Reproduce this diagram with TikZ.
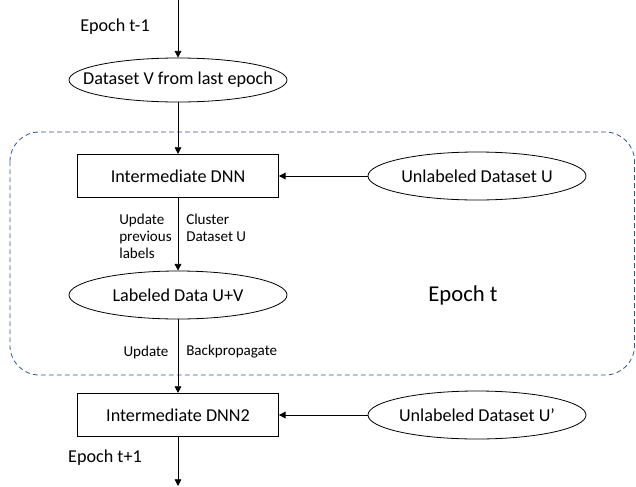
\documentclass[tikz,border=0pt]{standalone}
\usepackage{fontspec}
\setmainfont{Carlito}
\usetikzlibrary{arrows.meta,shapes.geometric}
\definecolor{epochblue}{RGB}{47,85,151}
\tikzset{
  flow/.style={-{Triangle[length=5pt,width=5pt]},line width=0.6pt},
  stage/.style={draw,rectangle,minimum width=150.75pt,minimum height=32.5pt,line width=0.6pt},
  data/.style={draw,ellipse,minimum width=163.5pt,minimum height=36pt,inner xsep=-16pt,inner ysep=1pt,line width=0.6pt},
  note/.style={font=\fontsize{11.3}{12.75}\selectfont,align=left,inner sep=0pt},
  epochbox/.style={draw=epochblue,dash pattern=on 3.5pt off 2.5pt,rounded corners=22pt,line width=0.6pt}
}
\begin{document}
\begin{tikzpicture}[x=0.75pt,y=-0.75pt,every node/.append style={font=\fontsize{13.6}{16}\selectfont}]
	\useasboundingbox (0,0) rectangle (636,486);
	\draw[epochbox] (10,132) rectangle (634.5,375);
	\coordinate(top) at (178,0);
	\coordinate(bottom) at (178,486);
	\node(tm1) at (115,27){Epoch t-1};
	\node[data,minimum height=33pt](dv) at (178,80){Dataset V from last epoch};
	\node[stage](dnn) at (178,176){Intermediate DNN};
	\node[data](ud) at (477,176){Unlabeled Dataset U};
	\node[note,anchor=north east](upd) at (172,214){Update\\previous\\labels};
	\node[note,anchor=north west](clu) at (186,214){Cluster\\Dataset U};
	\node[data](uv) at (178,295){Labeled Data U+V};
	\node[font=\fontsize{17}{20}\selectfont](ep) at (463,295){Epoch t};
	\node[note](up2) at (146,352){Update};
	\node[note,anchor=west](bp) at (186,352){Backpropagate};
	\node[stage](dnn2) at (178,415){Intermediate DNN2};
	\node[data](ud2) at (477,415){Unlabeled Dataset U’};
	\node(tp1) at (105,458){Epoch t+1};
		\draw[flow](top) -- (dv);
		\draw[flow](dv) -- (dnn);
		\draw[flow](ud) -- (dnn);
		\draw[flow](dnn) -- (uv);
		\draw[flow](uv) -- (dnn2);
		\draw[flow](ud2) -- (dnn2);
		\draw[flow](dnn2) -- (bottom);
\end{tikzpicture}
\end{document}
